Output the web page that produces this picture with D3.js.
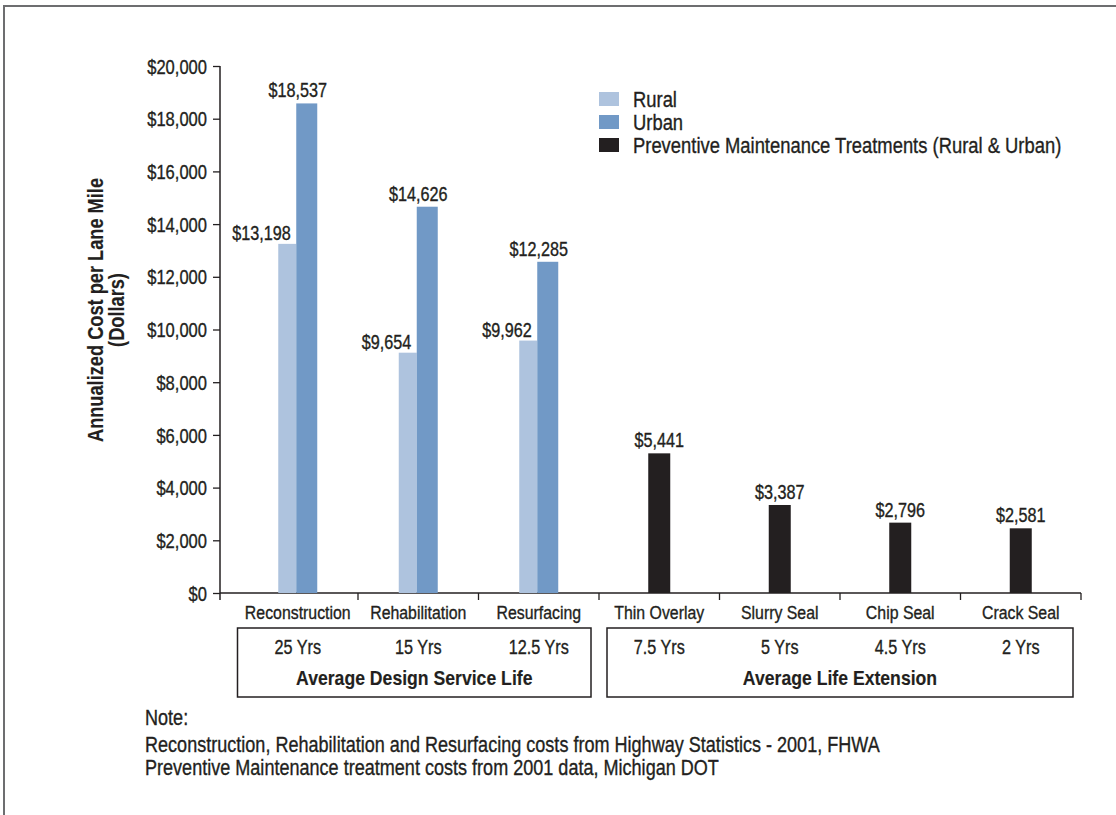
<!DOCTYPE html>
<html>
<head>
<meta charset="utf-8">
<script src="https://cdnjs.cloudflare.com/ajax/libs/d3/7.8.5/d3.min.js"></script>
<style>
  html, body { margin: 0; padding: 0; background: #fff; }
  svg { display: block; }
  text { font-family: "Liberation Sans", Arial, sans-serif; fill: #231f20; stroke: #231f20; stroke-width: 0.35px; }
  text.bold { stroke-width: 0.15px; }
</style>
</head>
<body>
<svg id="chart" width="1116" height="815"></svg>
<script>
// ---- data ----
const categories = ["Reconstruction", "Rehabilitation", "Resurfacing", "Thin Overlay", "Slurry Seal", "Chip Seal", "Crack Seal"];
const lifeLabels = ["25 Yrs", "15 Yrs", "12.5 Yrs", "7.5 Yrs", "5 Yrs", "4.5 Yrs", "2 Yrs"];
const ruralCats = ["Reconstruction", "Rehabilitation", "Resurfacing"];
const ruralValues = [13250, 9120, 9580];            // bar heights as drawn
const ruralLabels = ["$13,198", "$9,654", "$9,962"]; // printed labels
const urbanValues = [18580, 14660, 12570];
const urbanLabels = ["$18,537", "$14,626", "$12,285"];
const pmCats = ["Thin Overlay", "Slurry Seal", "Chip Seal", "Crack Seal"];
const pmValues = [5300, 3340, 2670, 2455];
const pmLabels = ["$5,441", "$3,387", "$2,796", "$2,581"];
const yTicks = [0, 2000, 4000, 6000, 8000, 10000, 12000, 14000, 16000, 18000, 20000];
const legendItems = ["Rural", "Urban", "Preventive Maintenance Treatments (Rural & Urban)"];
const groupTitles = ["Average Design Service Life", "Average Life Extension"];
const noteLines = ["Note:",
  "Reconstruction, Rehabilitation and Resurfacing costs from Highway Statistics - 2001, FHWA",
  "Preventive Maintenance treatment costs from 2001 data, Michigan DOT"];
const colors = { rural: "#aec3de", urban: "#7199c6", pm: "#231f20" };

// ---- layout ----
const SX = 0.84; // horizontal condensing of the text face
const svg = d3.select("#chart");
const axisX = 220, axisY = 593;
const x = d3.scaleBand().domain(categories).range([237.5, 1081]).padding(0);
const y = d3.scaleLinear().domain([0, 20000]).range([axisY, 66]);
const bw = x.bandwidth();
const cx = c => x(c) + bw / 2;
const tf = (px, py) => `translate(${px},${py}) scale(${SX},1)`;

// frame
svg.append("path").attr("d", "M4,815V6H1116").attr("fill", "none")
  .attr("stroke", "#6d6e70").attr("stroke-width", 2);

// y axis
const yAxis = d3.axisLeft(y).tickValues(yTicks).tickSize(7).tickSizeOuter(0)
  .tickFormat(d => "$" + d3.format(",")(d));
const gy = svg.append("g").attr("transform", `translate(${axisX},0)`).call(yAxis);
gy.select(".domain").remove();
gy.selectAll(".tick line").attr("stroke", "#231f20").attr("stroke-width", 1.3);
gy.selectAll(".tick text").attr("x", null).attr("dy", "0.36em")
  .attr("transform", tf(-13, 0))
  .style("font-size", "19.7px").style("font-family", null).attr("fill", "#231f20");
svg.append("line").attr("x1", axisX).attr("x2", axisX).attr("y1", y(20000)).attr("y2", axisY + 7)
  .attr("stroke", "#231f20").attr("stroke-width", 1.5);

// x axis
const xAxis = d3.axisBottom(x).tickSize(0).tickSizeOuter(0);
const gx = svg.append("g").attr("transform", `translate(0,${axisY})`).call(xAxis);
gx.select(".domain").remove();
gx.selectAll(".tick text").attr("y", null).attr("dy", null)
  .attr("transform", tf(0, 26))
  .style("font-size", "18.9px").style("font-family", null).attr("fill", "#231f20");
svg.append("line").attr("x1", axisX).attr("x2", 1081).attr("y1", axisY).attr("y2", axisY)
  .attr("stroke", "#231f20").attr("stroke-width", 1.5);
svg.selectAll("line.sep").data(categories).enter().append("line").attr("class", "sep")
  .attr("x1", d => x(d) + bw).attr("x2", d => x(d) + bw)
  .attr("y1", axisY).attr("y2", axisY + 7)
  .attr("stroke", "#231f20").attr("stroke-width", 1.3);

// bars
const ruralW = 18, urbanW = 21, pmW = 22;
svg.selectAll("rect.rural").data(ruralValues).enter().append("rect").attr("class", "rural")
  .attr("x", (d, i) => cx(ruralCats[i]) - 19.5).attr("width", ruralW)
  .attr("y", d => y(d)).attr("height", d => axisY - y(d)).attr("fill", colors.rural);
svg.selectAll("rect.urban").data(urbanValues).enter().append("rect").attr("class", "urban")
  .attr("x", (d, i) => cx(ruralCats[i]) - 1.5).attr("width", urbanW)
  .attr("y", d => y(d)).attr("height", d => axisY - y(d)).attr("fill", colors.urban);
svg.selectAll("rect.pm").data(pmValues).enter().append("rect").attr("class", "pm")
  .attr("x", (d, i) => cx(pmCats[i]) - pmW / 2).attr("width", pmW)
  .attr("y", d => y(d)).attr("height", d => axisY - y(d)).attr("fill", colors.pm);

// value labels
const valFont = "19.3px";
svg.selectAll("text.rl").data(ruralValues).enter().append("text").attr("class", "rl")
  .attr("transform", (d, i) => tf(cx(ruralCats[i]) - 7, y(d) - 4))
  .attr("text-anchor", "end").style("font-size", valFont)
  .text((d, i) => ruralLabels[i]);
svg.selectAll("text.ul").data(urbanValues).enter().append("text").attr("class", "ul")
  .attr("transform", (d, i) => tf(cx(ruralCats[i]), y(d) - 6))
  .attr("text-anchor", "middle").style("font-size", valFont)
  .text((d, i) => urbanLabels[i]);
svg.selectAll("text.pl").data(pmValues).enter().append("text").attr("class", "pl")
  .attr("transform", (d, i) => tf(cx(pmCats[i]), y(d) - 6))
  .attr("text-anchor", "middle").style("font-size", valFont)
  .text((d, i) => pmLabels[i]);

// y title
const yt = svg.append("text").attr("class", "bold")
  .attr("transform", `translate(103,310) rotate(-90) scale(${SX},1)`)
  .attr("text-anchor", "middle").style("font-size", "21.7px").style("font-weight", "bold");
yt.append("tspan").attr("x", 0).attr("dy", 0).text("Annualized Cost per Lane Mile");
yt.append("tspan").attr("x", 0).attr("dy", 21).text("(Dollars)");

// legend
const legColors = [colors.rural, colors.urban, colors.pm];
const lg = svg.append("g").attr("transform", "translate(599,92)");
legendItems.forEach((t, i) => {
  const g = lg.append("g").attr("transform", `translate(0,${i * 23})`);
  g.append("rect").attr("width", 20).attr("height", 14).attr("fill", legColors[i]);
  g.append("text").attr("transform", tf(34, 7)).attr("dy", "0.36em")
    .style("font-size", "21.9px").text(t);
});

// life boxes
const boxTop = 628, boxBottom = 697;
const groups = [
  { start: x(categories[0]), end: x(categories[2]) + bw - 8, title: groupTitles[0] },
  { start: x(categories[3]) + 8, end: x(categories[6]) + bw - 8, title: groupTitles[1] }
];
groups.forEach(gr => {
  svg.append("rect").attr("x", gr.start).attr("y", boxTop)
    .attr("width", gr.end - gr.start).attr("height", boxBottom - boxTop)
    .attr("fill", "none").attr("stroke", "#231f20").attr("stroke-width", 1.5);
  svg.append("text").attr("class", "bold").attr("transform", tf((gr.start + gr.end) / 2, 685))
    .attr("text-anchor", "middle").style("font-size", "21px").style("font-weight", "bold")
    .text(gr.title);
});
svg.selectAll("text.life").data(lifeLabels).enter().append("text").attr("class", "life")
  .attr("transform", (d, i) => tf(cx(categories[i]), 654))
  .attr("text-anchor", "middle").style("font-size", "19.3px")
  .text(d => d);

// note
const noteY = [725, 752, 775];
noteLines.forEach((t, i) => {
  svg.append("text").attr("transform", tf(145, noteY[i]))
    .style("font-size", "21.5px").text(t);
});
</script>
</body>
</html>
